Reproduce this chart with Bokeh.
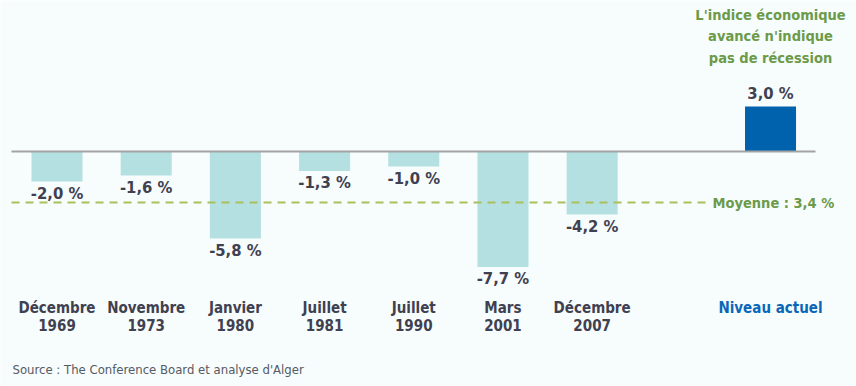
from bokeh.plotting import figure
from bokeh.models import ColumnDataSource, Range1d, Label
from bokeh.core.properties import value
from bokeh.embed import file_html
from bokeh.resources import INLINE

# ---- data ----
recession_labels = ["Décembre\n1969", "Novembre\n1973", "Janvier\n1980", "Juillet\n1981",
                    "Juillet\n1990", "Mars\n2001", "Décembre\n2007"]
recession_values = [-2.0, -1.6, -5.8, -1.3, -1.0, -7.7, -4.2]
recession_value_labels = ["-2,0 %", "-1,6 %", "-5,8 %", "-1,3 %", "-1,0 %", "-7,7 %", "-4,2 %"]
current_label = "Niveau actuel"
current_value = 3.0
current_value_label = "3,0 %"
average_value = -3.4
average_label = "Moyenne : 3,4 %"
note_text = "L'indice économique\navancé n'indique\npas de récession"
source_text = "Source : The Conference Board et analyse d'Alger"

# ---- layout ----
W, H = 856, 386
slot = 89.19
x0_px = 56.5
zero_px = 151.0
yscale = 15.0
FONT_NAME = "DejaVu Sans Condensed, Roboto, sans-serif"
FONT = value(FONT_NAME)
BG = "#f7fcfd"
DARK = "#3f4150"
GREEN = "#6b9a48"

x_start = -x0_px / slot
x_end = x_start + W / slot
y_end = zero_px / yscale
y_start = y_end - H / yscale


def dx(px):
    return x_start + px / slot


def dy(py):
    return y_end - py / yscale


p = figure(width=W, height=H, output_backend="svg", toolbar_location=None,
           x_range=Range1d(x_start, x_end), y_range=Range1d(y_start, y_end),
           x_axis_location=None, y_axis_location=None,
           min_border=0, min_border_left=0, min_border_right=0,
           min_border_top=0, min_border_bottom=0)
p.grid.visible = False
p.outline_line_color = None
p.background_fill_color = BG
p.border_fill_color = BG

rx = list(range(len(recession_values)))
cur_x = len(recession_values) + 1

src = ColumnDataSource(dict(x=rx, top=[0] * len(rx), bottom=recession_values,
                            lab=recession_value_labels, cat=recession_labels))
p.vbar(x="x", top="top", bottom="bottom", width=0.572, source=src,
       fill_color="#b4e0e1", line_color=None)
p.vbar(x=[cur_x], top=[current_value], bottom=[0], width=0.572,
       fill_color="#0062ad", line_color=None)

# zero line
p.segment(x0=[dx(11)], x1=[dx(815)], y0=[0], y1=[0], line_color="#a3a3a3", line_width=2)
# average dashed line
p.segment(x0=[dx(11)], x1=[dx(705)], y0=[average_value], y1=[average_value],
          line_color="#a9c05b", line_width=2, line_dash="8 6")

# value labels
p.text(x="x", y="bottom", text="lab", source=src, text_font=FONT, text_font_style="bold",
       text_font_size="16.5px", text_color=DARK, text_align="center", text_baseline="top",
       y_offset=2)
p.text(x=[cur_x], y=[current_value], text=[current_value_label], text_font=FONT,
       text_font_style="bold", text_font_size="16.5px", text_color=DARK,
       text_align="center", text_baseline="bottom", y_offset=-4)

# category labels
p.text(x="x", y=dy(298), text="cat", source=src, text_font=FONT, text_font_style="bold",
       text_font_size="15px", text_color=DARK, text_align="center", text_baseline="top",
       text_line_height=1.0)
p.text(x=[cur_x], y=[dy(298)], text=[current_label], text_font=FONT, text_font_style="bold",
       text_font_size="15px", text_color="#0a67b8", text_align="center", text_baseline="top")

# average label
p.text(x=[dx(712)], y=[average_value], text=[average_label], text_font=FONT,
       text_font_style="bold", text_font_size="14.5px", text_color=GREEN,
       text_align="left", text_baseline="middle")

# note
p.text(x=[cur_x], y=[dy(6)], text=[note_text], text_font=FONT, text_font_style="bold",
       text_font_size="14.5px", text_color=GREEN, text_align="center", text_baseline="top",
       text_line_height=1.35)

# source
p.add_layout(Label(x=12, y=10, x_units="screen", y_units="screen", text=source_text,
                   text_font=FONT_NAME, text_font_size="13px", text_color="#555a63"))

open("out.html", "w").write(file_html(p, INLINE))
